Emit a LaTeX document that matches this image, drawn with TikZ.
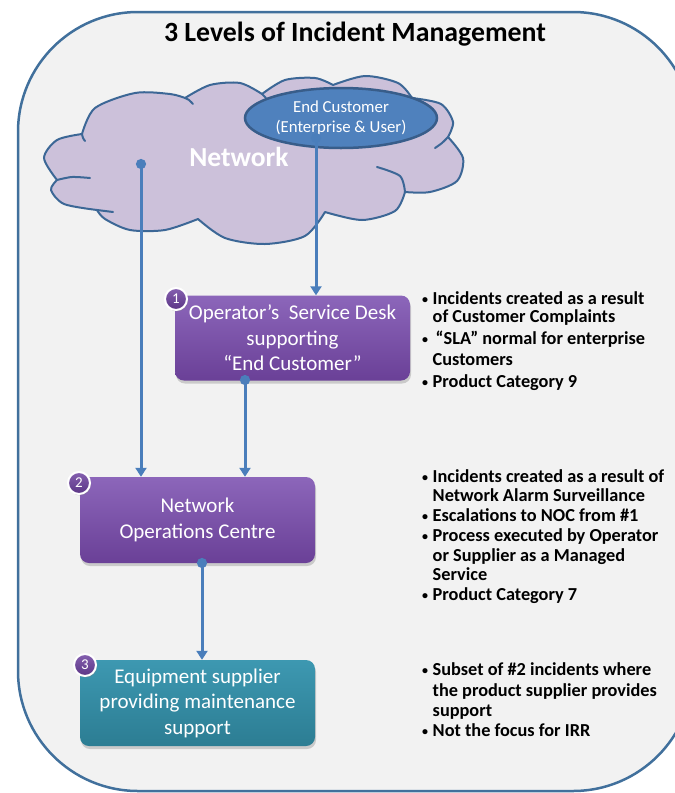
\documentclass[tikz,border=0pt]{standalone}
\usepackage{fontspec}
\setmainfont{Carlito}
\usetikzlibrary{arrows.meta,shapes.geometric,shadows}
\definecolor{framec}{HTML}{41709C}
\definecolor{bgc}{HTML}{F2F2F2}
\definecolor{cloudc}{HTML}{CCC1DA}
\definecolor{cloudl}{HTML}{3C6796}
\definecolor{ellc}{HTML}{4F81BD}
\definecolor{elll}{HTML}{385D8A}
\definecolor{connc}{HTML}{4A7EBB}
\definecolor{purtop}{HTML}{8C66BA}
\definecolor{purbot}{HTML}{6A4097}
\definecolor{teatop}{HTML}{3D98B1}
\definecolor{teabot}{HTML}{2C7D93}
\definecolor{badtop}{HTML}{8560B0}
\definecolor{badbot}{HTML}{5B3585}
\newcommand\mybul{\makebox[10.5pt][l]{\raisebox{1pt}{\fontsize{12}{12}\selectfont\textbullet}}}
\newcommand\myind{\hspace*{10.5pt}}
\begin{document}
\begin{tikzpicture}[x=1pt,y=-1pt,
  frame/.style={draw=framec,line width=2.5pt,fill=bgc,rounded corners=120pt},
  cloudline/.style={draw=cloudl,line width=2pt,line join=round,line cap=round},
  box/.style={rounded corners=9pt,minimum width=235pt,inner sep=0pt,align=center,text=white,
    font=\fontsize{21}{25.5}\selectfont,
    drop shadow={shadow xshift=1pt,shadow yshift=-3pt,opacity=.35}},
  purplebox/.style={box,top color=purtop,bottom color=purbot},
  tealbox/.style={box,top color=teatop,bottom color=teabot},
  badge/.style={circle,minimum size=22pt,inner sep=0pt,draw=white,line width=2pt,
    top color=badtop,bottom color=badbot,text=white,font=\fontsize{15}{16}\selectfont,
    drop shadow={shadow xshift=1pt,shadow yshift=-1.5pt,opacity=.35}},
  conn/.style={draw=connc,line width=3pt,arrows={Circle[length=10pt]-Triangle[width=11pt,length=9pt]}},
  bl/.style={anchor=base west,inner sep=0pt,font=\bfseries\fontsize{18.3}{20}\selectfont}
]
\useasboundingbox (0,0) rectangle (675,793);
\begin{scope}
\clip (0,0) rectangle (675,793);
\path[frame] (18,12) rectangle (693,791);
\end{scope}

\node[font=\bfseries\fontsize{27.8}{30}\selectfont] (title) at (355,34) {3 Levels of Incident Management};

% cloud
\path[cloudline,fill=cloudc]
  plot[smooth] coordinates {(57,180) (44,158) (57,140) (82,134)}
  -- plot[smooth] coordinates {(82,134) (95,108) (135,93) (170,94) (185,98)}
  -- plot[smooth] coordinates {(185,98) (210,85) (240,83) (262,94)}
  -- plot[smooth] coordinates {(262,94) (285,80) (315,78) (333,85)}
  -- plot[smooth] coordinates {(333,85) (365,76) (398,83) (412,98)}
  -- plot[smooth] coordinates {(412,98) (441,104) (453,122) (448,137)}
  -- plot[smooth] coordinates {(448,137) (463,158) (457,181) (430,192) (405,192)}
  -- plot[smooth] coordinates {(405,192) (395,211) (362,220) (325,212)}
  -- plot[smooth] coordinates {(325,212) (305,236) (265,244) (225,238) (198,219)}
  -- plot[smooth] coordinates {(198,219) (165,230) (130,230) (105,219) (97,210)}
  -- plot[smooth] coordinates {(97,210) (64,204) (51,190) (57,180)}
  -- cycle;
\draw[cloudline] plot[smooth] coordinates {(57,180) (72,177) (90,178)};
\draw[cloudline] plot[smooth] coordinates {(82,134) (83,138) (85,141)};
\draw[cloudline] plot[smooth] coordinates {(185,98) (189,100) (193,104)};
\draw[cloudline] plot[smooth] coordinates {(262,94) (264,96) (266,98)};
\draw[cloudline] plot[smooth] coordinates {(448,137) (442,143) (435,148)};
\draw[cloudline] plot[smooth] coordinates {(405,192) (400,176) (377,167)};
\draw[cloudline] plot[smooth] coordinates {(97,210) (105,211) (113,212)};

\node[text=white,font=\bfseries\fontsize{27.5}{30}\selectfont] (net) at (239,157) {Network};

\node[ellipse,draw=elll,line width=2.5pt,fill=ellc,minimum width=192pt,minimum height=60pt,inner sep=0pt,
  align=center,text=white,font=\fontsize{16.8}{20}\selectfont] (ec) at (341,118) {End Customer\\(Enterprise \& User)};

% boxes
\node[purplebox,minimum height=85pt] (box1) at (292.5,338) {Operator’s\ \ Service Desk\\supporting\\ “End Customer”};
\node[purplebox,minimum height=86pt] (box2) at (197.5,520) {Network\\Operations Centre};
\node[tealbox,minimum height=86pt] (box3) at (197.5,703) {Equipment supplier\\providing maintenance\\support};

\node[badge] (b1) at (176,299) {1};
\node[badge] (b2) at (79,483) {2};
\node[badge] (b3) at (85,665) {3};

% connectors
\coordinate (a0) at (141,159);
\coordinate (e0) at (316,133);
\coordinate (c0) at (245,375);
\coordinate (d0) at (202,558);
\draw[conn] (a0) -- (a0 |- box2.north);
\draw[conn] (e0) -- (e0 |- box1.north);
\draw[conn] (c0) -- (c0 |- box2.north);
\draw[conn] (d0) -- (d0 |- box3.north);

% bullet texts
\node[bl] (t1a) at (422,304) {\mybul Incidents created as a result};
\node[bl] (t1b) at (422,322) {\myind of Customer Complaints};
\node[bl] (t1c) at (422,344) {\mybul\hspace{3pt}“SLA” normal for enterprise};
\node[bl] (t1d) at (422,365) {\myind Customers};
\node[bl] (t1e) at (422,387) {\mybul Product Category 9};

\node[bl] (t2a) at (422,482) {\mybul Incidents created as a result of};
\node[bl] (t2b) at (422,501) {\myind Network Alarm Surveillance};
\node[bl] (t2c) at (422,521) {\mybul Escalations to NOC from \#1};
\node[bl] (t2d) at (422,541) {\mybul Process executed by Operator};
\node[bl] (t2e) at (422,561) {\myind or Supplier as a Managed};
\node[bl] (t2f) at (422,580) {\myind Service};
\node[bl] (t2g) at (422,600) {\mybul Product Category 7};

\node[bl] (t3a) at (422,675) {\mybul Subset of \#2 incidents where};
\node[bl] (t3b) at (422,696) {\myind the product supplier provides};
\node[bl] (t3c) at (422,716) {\myind support};
\node[bl] (t3d) at (422,736) {\mybul Not the focus for IRR};
\end{tikzpicture}
\end{document}
